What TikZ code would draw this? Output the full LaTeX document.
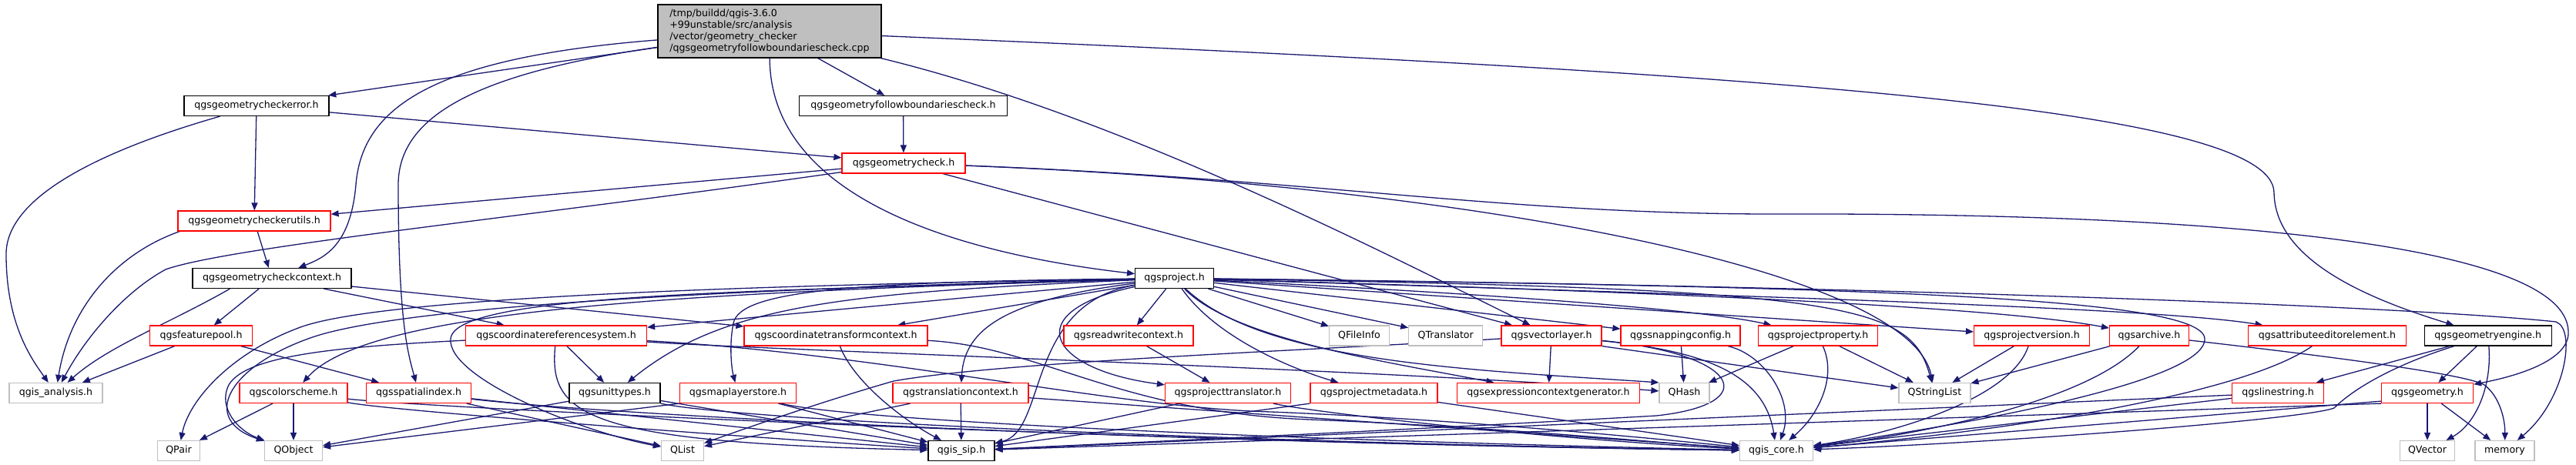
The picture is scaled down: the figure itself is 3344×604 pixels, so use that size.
\documentclass[tikz,border=0pt]{standalone}
\usepackage{fontspec}
\setmainfont{DejaVu Sans}
\usetikzlibrary{arrows.meta}
\definecolor{edgec}{HTML}{191970}
\definecolor{grayb}{HTML}{BFBFBF}
\definecolor{rootf}{HTML}{BFBFBF}
\pgfdeclarelayer{bg}
\pgfsetlayers{bg,main}
\tikzset{
  nfont/.style={font=\fontsize{12.6}{14.7}\selectfont},
  nbox/.style={draw, fill=white, line width=1.2pt, minimum height=26pt, inner sep=0pt, nfont, text height=9.6pt, text depth=2.9pt},
  nblk/.style={nbox, draw=black},
  nred/.style={nbox, draw=red},
  ngry/.style={nbox, draw=grayb},
  rootbox/.style={draw=black, fill=rootf, line width=1.2pt, inner sep=0pt, nfont, minimum width=290pt, minimum height=69pt, align=left},
  edg/.style={draw=edgec, line width=1.3pt, -{Triangle[length=10pt,width=8pt]}},
}
\begin{document}
\begin{tikzpicture}[x=1pt,y=-1pt]
\useasboundingbox (0,0) rectangle (3344,604);
\begin{pgfonlayer}{bg}
\fill[white] (0,0) rectangle (3344,604);
\end{pgfonlayer}
% ---------- nodes ----------
\node[rootbox] (root) at (999,40.5) {/tmp/buildd/qgis-3.6.0\\+99unstable/src/analysis\\/vector/geometry\_checker\\/qgsgeometryfollowboundariescheck.cpp};
\node[nblk,minimum width=188pt] (err) at (333,137.5) {qgsgeometrycheckerror.h};
\node[nblk,minimum width=270pt] (fbc) at (1172.5,137.5) {qgsgeometryfollowboundariescheck.h};
\node[nred,minimum width=160pt] (chk) at (1173,212) {qgsgeometrycheck.h};
\node[nred,minimum width=198pt] (utl) at (330,287) {qgsgeometrycheckerutils.h};
\node[nblk,minimum width=206pt] (ctx) at (353,361.5) {qgsgeometrycheckcontext.h};
\node[nblk,minimum width=102pt] (prj) at (1524.6,361.5) {qgsproject.h};
% row 6
\node[nred,minimum width=133pt] (fpl) at (261,436) {qgsfeaturepool.h};
\node[nred,minimum width=235pt] (crs) at (722,436) {qgscoordinatereferencesystem.h};
\node[nred,minimum width=238pt] (ctc) at (1085,436) {qgscoordinatetransformcontext.h};
\node[nred,minimum width=168pt] (rwc) at (1465,436) {qgsreadwritecontext.h};
\node[ngry,minimum width=78pt] (qfi) at (1764.5,436) {QFileInfo};
\node[ngry,minimum width=96pt] (qtr) at (1876.7,436) {QTranslator};
\node[nred,minimum width=130pt] (vl) at (2014,436) {qgsvectorlayer.h};
\node[nred,minimum width=155pt] (snp) at (2181.5,436) {qgssnappingconfig.h};
\node[nred,minimum width=155pt] (ppr) at (2360,436) {qgsprojectproperty.h};
\node[nred,minimum width=150pt] (pvr) at (2637.5,436) {qgsprojectversion.h};
\node[nred,minimum width=103pt] (arc) at (2790,436) {qgsarchive.h};
\node[nred,minimum width=205pt] (aee) at (3021,436) {qgsattributeeditorelement.h};
\node[nblk,minimum width=165pt] (gen) at (3229.7,436) {qgsgeometryengine.h};
% row 7
\node[ngry,minimum width=121pt] (ana) at (72.5,510.5) {qgis\_analysis.h};
\node[nred,minimum width=140pt] (csc) at (381,510.5) {qgscolorscheme.h};
\node[nred,minimum width=136pt] (spi) at (543.7,510.5) {qgsspatialindex.h};
\node[nblk,minimum width=118pt] (ut) at (798,510.5) {qgsunittypes.h};
\node[nred,minimum width=151pt] (mls) at (958,510.5) {qgsmaplayerstore.h};
\node[nred,minimum width=176pt] (tc) at (1247,510.5) {qgstranslationcontext.h};
\node[nred,minimum width=163pt] (ptr) at (1594,510.5) {qgsprojecttranslator.h};
\node[nred,minimum width=165pt] (pmd) at (1783.5,510.5) {qgsprojectmetadata.h};
\node[nred,minimum width=237pt] (ecg) at (2010,510.5) {qgsexpressioncontextgenerator.h};
\node[ngry,minimum width=65pt] (qh) at (2186.5,510.5) {QHash};
\node[ngry,minimum width=93pt] (qsl) at (2511.4,510.5) {QStringList};
\node[nred,minimum width=119pt] (ls) at (2957,510.5) {qgslinestring.h};
\node[nred,minimum width=119pt] (geo) at (3151,510.5) {qgsgeometry.h};
% row 8
\node[ngry,minimum width=55pt] (qp) at (232,585.5) {QPair};
\node[ngry,minimum width=75pt] (qo) at (381,585.5) {QObject};
\node[ngry,minimum width=55pt] (ql) at (886,585.5) {QList};
\node[nblk,minimum width=86pt] (sip) at (1248,585.5) {qgis\_sip.h};
\node[ngry,minimum width=95pt] (core) at (2306,585.5) {qgis\_core.h};
\node[ngry,minimum width=71pt] (qv) at (3151,585.5) {QVector};
\node[ngry,minimum width=77pt] (mem) at (3251.5,585.5) {memory};
% ---------- edges ----------
\begin{pgfonlayer}{bg}
% root
\draw[edg] (root) -- (err);
\draw[edg] (root) -- (fbc);
\draw[edg] (root) .. controls (560,75) and (470,140) .. (462,240) .. controls (455,320) and (420,335) .. (ctx);
\draw[edg] (root) .. controls (620,95) and (517,150) .. (517,240) .. controls (517,420) and (530,460) .. (spi);
\draw[edg] (root) .. controls (1000,260) and (1250,330) .. (prj);
\draw[edg] (root) .. controls (1450,150) and (1790,325) .. (vl);
\draw[edg] (root) .. controls (2300,95) and (2950,140) .. (2952,250) .. controls (2953,340) and (3080,390) .. (gen);
% upper part
\draw[edg] (fbc) -- (chk);
\draw[edg] (err) -- (chk);
\draw[edg] (err) -- (utl);
\draw[edg] (err) .. controls (150,190) and (8,250) .. (8,330) .. controls (8,420) and (40,465) .. (ana);
\draw[edg] (chk) -- (utl);
\draw[edg] (chk) .. controls (700,280) and (300,320) .. (215,350) .. controls (160,380) and (110,440) .. (ana);
\draw[edg] (chk) -- (vl);
\draw[edg] (chk) .. controls (1900,240) and (2480,350) .. (qsl);
\draw[edg] (chk) .. controls (1700,232) and (1950,278) .. (2300,278) .. controls (2900,276) and (3330,320) .. (3334,430) .. controls (3337,470) and (3260,490) .. (geo);
\draw[edg] (utl) -- (ctx);
\draw[edg] (utl.-172) .. controls (150,330) and (90,400) .. (ana);
\draw[edg] (ctx.-166) .. controls (220,420) and (140,450) .. (ana);
\draw[edg] (ctx) -- (fpl);
\draw[edg] (ctx) -- (crs);
\draw[edg] (ctx) -- (ctc);
\draw[edg] (fpl) -- (ana);
\draw[edg] (fpl) -- (spi);
% crs
\draw[edg] (crs) .. controls (450,450) and (320,460) .. (297,500) .. controls (282,530) and (310,560) .. (qo);
\draw[edg] (crs) -- (ut);
\draw[edg] (crs) .. controls (712,540) and (760,575) .. (sip);
\draw[edg] (crs) .. controls (1000,455) and (1800,480) .. (qh);
\draw[edg] (crs) .. controls (1150,460) and (1450,530) .. (1650,535) .. controls (1900,545) and (2150,570) .. (core);
% ctc
\draw[edg] (ctc) .. controls (1110,500) and (1180,550) .. (sip);
\draw[edg] (ctc) .. controls (1350,450) and (1450,535) .. (1700,545) .. controls (1950,555) and (2150,575) .. (core);
% spi
\draw[edg] (spi) -- (ql);
\draw[edg] (spi) -- (sip);
\draw[edg] (spi) .. controls (800,540) and (1500,575) .. (core);
% csc
\draw[edg] (csc) -- (qp);
\draw[edg] (csc) -- (qo);
\draw[edg] (csc) .. controls (520,535) and (1000,570) .. (sip);
\draw[edg] (csc) .. controls (560,530) and (1500,575) .. (core);
% ut
\draw[edg] (ut) -- (qo);
\draw[edg] (ut) -- (sip);
\draw[edg] (ut) .. controls (950,545) and (1600,575) .. (core);
% mls
\draw[edg] (mls.south west) -- (qo);
\draw[edg] (mls) -- (sip);
\draw[edg] (mls) .. controls (1100,545) and (1600,570) .. (core);
% tc
\draw[edg] (tc) -- (ql);
\draw[edg] (tc) -- (sip);
\draw[edg] (tc) -- (core);
% rwc ptr pmd
\draw[edg] (rwc) -- (ptr);
\draw[edg] (ptr) -- (sip);
\draw[edg] (ptr) .. controls (1700,535) and (2000,570) .. (core);
\draw[edg] (pmd.south west) -- (sip);
\draw[edg] (pmd) -- (core);
% vl
\draw[edg] (vl) .. controls (1700,455) and (1300,470) .. (1160,495) .. controls (1080,518) and (1000,545) .. (ql);
\draw[edg] (vl) -- (ecg);
\draw[edg] (vl.south east) -- (qsl);
\draw[edg] (vl) .. controls (2200,455) and (2290,480) .. (core);
\draw[edg] (vl) .. controls (2260,460) and (2290,525) .. (2150,540) .. controls (1800,560) and (1400,578) .. (sip);
% snp ppr pvr arc aee
\draw[edg] (snp) -- (qh);
\draw[edg] (snp) .. controls (2290,460) and (2330,520) .. (core);
\draw[edg] (ppr) -- (qh);
\draw[edg] (ppr) .. controls (2385,490) and (2360,540) .. (core);
\draw[edg] (ppr) -- (qsl);
\draw[edg] (pvr) -- (qsl);
\draw[edg] (pvr) .. controls (2610,520) and (2450,565) .. (core);
\draw[edg] (arc) -- (qsl);
\draw[edg] (arc) .. controls (2700,530) and (2450,570) .. (core);
\draw[edg] (arc) .. controls (3000,460) and (3200,485) .. (3225,500) .. controls (3245,515) and (3252,545) .. (mem);
\draw[edg] (aee) .. controls (2900,520) and (2550,565) .. (core);
% gen ls geo
\draw[edg] (gen) -- (ls);
\draw[edg] (gen) -- (geo);
\draw[edg] (gen) .. controls (3235,500) and (3215,550) .. (qv);
\draw[edg] (gen) .. controls (3120,470) and (3060,500) .. (3030,530) .. controls (2990,545) and (2600,575) .. (core);
\draw[edg] (ls) -- (sip);
\draw[edg] (ls) -- (core);
\draw[edg] (geo) -- (qv);
\draw[edg] (geo) -- (mem);
\draw[edg] (geo.south west) -- (sip);
\draw[edg] (geo.-170) -- (core);
% prj
\draw[edg] (prj) -- (crs);
\draw[edg] (prj) -- (ctc);
\draw[edg] (prj) .. controls (900,380) and (480,400) .. (csc);
\draw[edg] (prj) .. controls (1000,370) and (500,385) .. (390,425) .. controls (300,458) and (245,520) .. (qp);
\draw[edg] (prj) .. controls (1000,374) and (520,395) .. (400,440) .. controls (295,478) and (260,545) .. (qo);
\draw[edg] (prj) .. controls (1000,378) and (590,380) .. (585,440) .. controls (580,490) and (750,560) .. (ql);
\draw[edg] (prj) .. controls (1100,380) and (940,395) .. (ut);
\draw[edg] (prj) .. controls (1100,366) and (960,378) .. (952,420) .. controls (946,450) and (950,480) .. (mls);
\draw[edg] (prj) .. controls (1300,390) and (1252,430) .. (tc);
\draw[edg] (prj) .. controls (1330,395) and (1360,560) .. (sip);
\draw[edg] (prj) -- (rwc);
\draw[edg] (prj) .. controls (1320,405) and (1360,480) .. (ptr);
\draw[edg] (prj) .. controls (1580,440) and (1680,480) .. (pmd);
\draw[edg] (prj) -- (qfi);
\draw[edg] (prj) -- (qtr);
\draw[edg] (prj) .. controls (1600,440) and (1800,470) .. (ecg);
\draw[edg] (prj) .. controls (1640,470) and (1900,480) .. (qh.north west);
\draw[edg] (prj) -- (snp);
\draw[edg] (prj) .. controls (1900,380) and (2200,400) .. (ppr);
\draw[edg] (prj) -- (pvr);
\draw[edg] (prj) .. controls (2200,380) and (2600,400) .. (arc);
\draw[edg] (prj) .. controls (2300,385) and (2800,400) .. (aee);
\draw[edg] (prj) .. controls (2400,375) and (2480,395) .. (qsl);
\draw[edg] (prj) .. controls (2500,372) and (3150,400) .. (3318,418) .. controls (3345,428) and (3330,520) .. (mem);
\draw[edg] (prj) .. controls (2400,372) and (2860,385) .. (2862,440) .. controls (2864,500) and (2500,560) .. (core);
\end{pgfonlayer}
\end{tikzpicture}
\end{document}
